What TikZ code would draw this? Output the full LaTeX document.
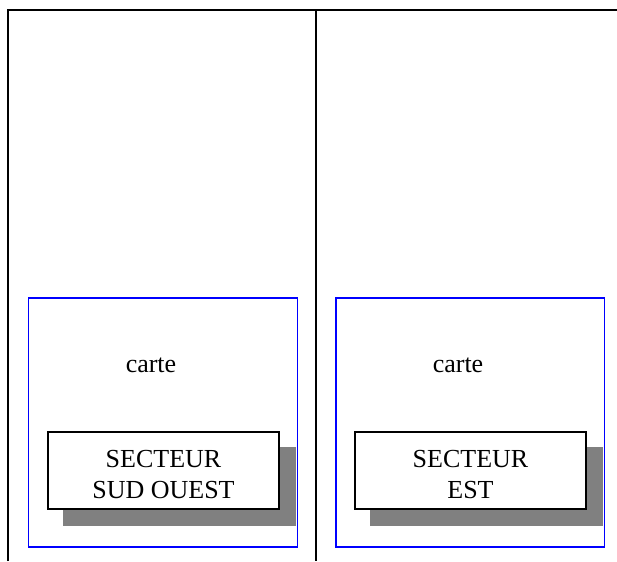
\documentclass[tikz,border=0pt]{standalone}
\usepackage{fontspec}
\setmainfont{Liberation Serif}

\begin{document}
\begin{tikzpicture}[x=1pt, y=-1pt,
            cadre/.style={draw=blue, line width=1.2pt},
            ombre/.style={fill=gray},
            secteur/.style={draw, line width=1.3pt, fill=white, inner sep=0pt,
                minimum width=231pt, minimum height=77pt},
            texte/.style={font=\fontsize{26}{30}\selectfont, inner sep=0pt, anchor=base}]
    \useasboundingbox (0,0) rectangle (617,561);
    \draw[line width=1.5pt] (8,561) -- (8,10) -- (617,10);
    \draw[line width=1.5pt] (316,10) -- (316,561);
    % secteur sud ouest
    \draw[cadre] (28.5,298) rectangle (297.5,547);
    \node[texte] (carteSO) at (151,372) {carte};
    \fill[ombre] (63,447) rectangle (296,525.5);
    \node[secteur] (boiteSO) at (163.5,470.5) {};
    \node[texte] (nomSOa) at (163.5,467.3) {SECTEUR};
    \node[texte] (nomSOb) at (163.5,498.7) {SUD OUEST};
    % secteur est
    \draw[cadre] (336,298) rectangle (604.5,547);
    \node[texte] (carteE) at (458,372) {carte};
    \fill[ombre] (370,447) rectangle (603,525.5);
    \node[secteur] (boiteE) at (470.5,470.5) {};
    \node[texte] (nomEa) at (470.5,467.3) {SECTEUR};
    \node[texte] (nomEb) at (470.5,498.7) {EST};
\end{tikzpicture}
\end{document}
